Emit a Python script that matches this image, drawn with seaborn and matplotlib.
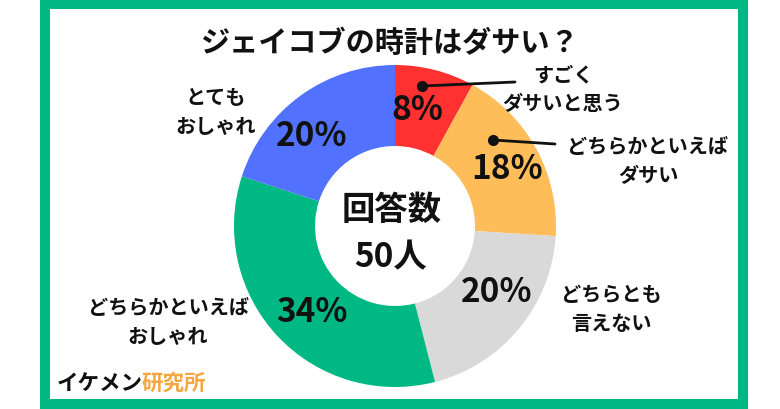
import matplotlib
matplotlib.use("Agg")
import matplotlib.pyplot as plt
import seaborn as sns
from matplotlib.patches import Rectangle

# data
categories = ["すごく\nダサいと思う", "どちらかといえば\nダサい", "どちらとも\n言えない",
              "どちらかといえば\nおしゃれ", "とても\nおしゃれ"]
shares = [8, 18, 20, 34, 20]
title = "ジェイコブの時計はダサい？"
center_lines = ["回答数", "50人"]
brand = ["イケメン", "研究所"]

colors = sns.color_palette(["#FF3131", "#FFBD59", "#D9D9D9", "#00B883", "#5271FF"])
frame_green = "#00B883"

# layout (pixel coords, y down)
pct_pos = [(417, 111), (507, 170), (497, 293), (312, 313), (312, 137)]
label_pos = [(563, 89), (648, 161), (611, 309), (168, 322), (216, 112)]
leaders = [((422, 87), (515, 83)), ((493, 141), (555, 145))]

sns.set_theme(style="white")
plt.rcParams["font.family"] = ["Noto Sans CJK JP", "DejaVu Sans"]

fig = plt.figure(figsize=(7.8, 4.1), dpi=100)
ax = fig.add_axes([0, 0, 1, 1])

# y axis is inverted below, so visual clockwise from top = counterclock in data
ax.pie(shares, colors=colors, startangle=-90, counterclock=True,
       radius=161, center=(395, 227), frame=True,
       wedgeprops=dict(width=81, linewidth=0))

ax.set_xlim(0, 780)
ax.set_ylim(410, 0)
ax.set_aspect("equal")
ax.axis("off")

ax.add_patch(Rectangle((45, 5), 698, 400, fill=False, lw=7.2, edgecolor=frame_green))

ax.text(390, 43, title, ha="center", va="center", fontsize=21, fontweight="bold", color="#111111")

for v, (x, y) in zip(shares, pct_pos):
    ax.text(x, y, f"{v}%", ha="center", va="center", fontsize=24, fontweight="bold", color="#111111")

for lab, (x, y) in zip(categories, label_pos):
    ax.text(x, y, lab, ha="center", va="center", fontsize=14.5, fontweight="bold",
            color="#111111", linespacing=1.45)

for (p0, p1) in leaders:
    ax.plot([p0[0], p1[0]], [p0[1], p1[1]], color="#111111", lw=2)
    ax.plot(p0[0], p0[1], "o", color="#111111", ms=7)

ax.text(392, 210, center_lines[0], ha="center", va="center", fontsize=24, fontweight="bold", color="#111111")
ax.text(391, 258, center_lines[1], ha="center", va="center", fontsize=24, fontweight="bold", color="#111111")

ax.text(57, 383, brand[0], ha="left", va="center", fontsize=15.5, fontweight="bold", color="#111111")
ax.text(142, 383, brand[1], ha="left", va="center", fontsize=15.5, fontweight="bold", color="#F4A640")

fig.savefig("out.png", dpi=100)
